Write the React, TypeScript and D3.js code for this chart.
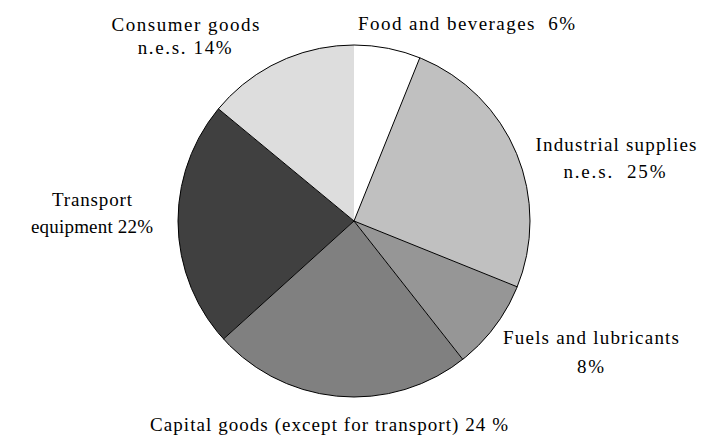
import React from "react";
import * as d3 from "d3";

const categories = [
  "Food and beverages",
  "Industrial supplies n.e.s.",
  "Fuels and lubricants",
  "Capital goods (except for transport)",
  "Transport equipment",
  "Consumer goods n.e.s.",
];
const shares = [6.1, 25.0, 8.3, 23.9, 22.7, 14.0];
const colors = ["#ffffff", "#c0c0c0", "#969696", "#808080", "#404040", "#dddddd"];

const labelLines: { t: string; x: number; y: number; a: string; len?: number }[] = [
  { t: "Food and beverages  6%", x: 358, y: 30, a: "start", len: 217 },
  { t: "Industrial supplies", x: 616, y: 151, a: "middle", len: 161 },
  { t: "n.e.s.  25%", x: 614.5, y: 178, a: "middle", len: 102 },
  { t: "Fuels and lubricants", x: 591, y: 344, a: "middle", len: 176 },
  { t: "8%", x: 590.5, y: 373, a: "middle", len: 27 },
  { t: "Capital goods (except for transport) 24 %", x: 329, y: 431, a: "middle", len: 358 },
  { t: "Transport", x: 92, y: 206, a: "middle", len: 80 },
  { t: "equipment 22%", x: 92, y: 233, a: "middle", len: 122 },
  { t: "Consumer goods", x: 185.5, y: 31, a: "middle", len: 148 },
  { t: "n.e.s. 14%", x: 184.7, y: 54, a: "middle", len: 94 },
];

export default function App() {
  const W = 702, H = 437;
  const cx = 354, cy = 221, r = 176;
  const pie = d3.pie<number>().sort(null).value((d) => d)(shares);
  const arc = d3.arc<d3.PieArcDatum<number>>().innerRadius(0).outerRadius(r);
  return (
    <svg width={W} height={H} style={{ position: "absolute", left: 0, top: 0, background: "#fff" }}>
      <g transform={`translate(${cx},${cy})`}>
        {pie.map((p, i) => (
          <path key={i} d={arc(p) || ""} fill={colors[i]} stroke="none" />
        ))}
        {pie.map((p, i) =>
          i === 0 ? null : (
            <line
              key={"l" + i}
              x1={0}
              y1={0}
              x2={r * Math.sin(p.startAngle)}
              y2={-r * Math.cos(p.startAngle)}
              stroke="#000"
              strokeWidth={1}
            />
          )
        )}
        <circle r={r} fill="none" stroke="#000" strokeWidth={1} />
      </g>
      {labelLines.map((l, i) => (
        <text
          key={i}
          x={l.x}
          y={l.y}
          textAnchor={l.a as any}
          style={{ whiteSpace: "pre", fontFamily: "Liberation Serif, Times New Roman, Times, serif", fontSize: "19px" }}
          fill="#000"
          textLength={l.len}
          lengthAdjust={l.len ? "spacing" : undefined}
        >
          {l.t}
        </text>
      ))}
    </svg>
  );
}
